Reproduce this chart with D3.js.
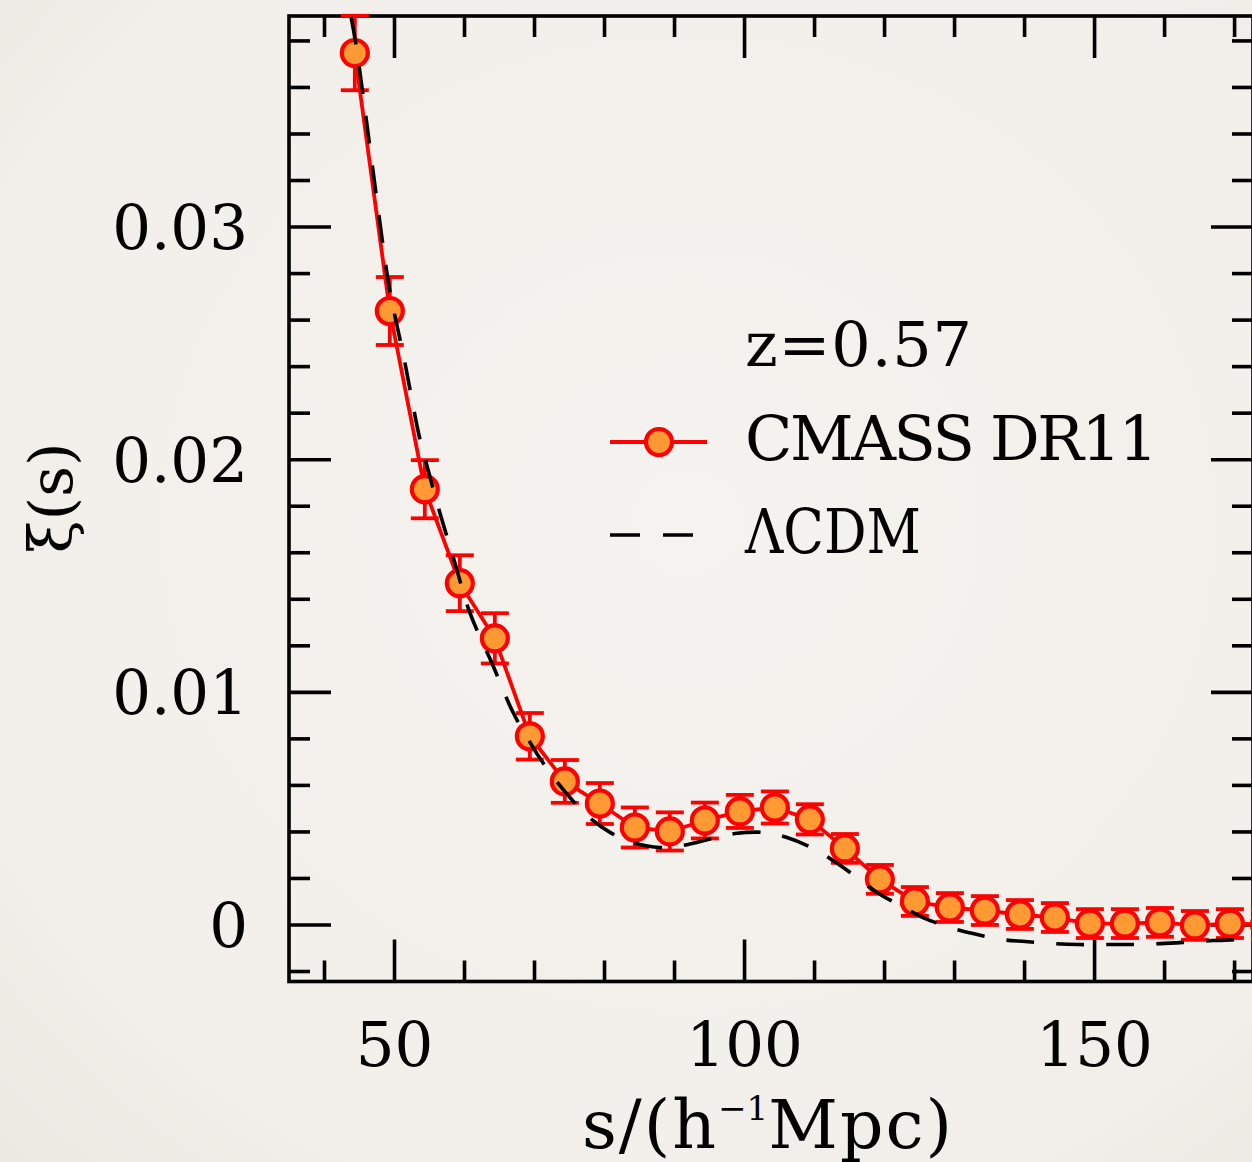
<!DOCTYPE html>
<html>
<head>
<meta charset="utf-8">
<script src="https://cdn.jsdelivr.net/npm/d3@7/dist/d3.min.js"></script>
<style>
  html, body { margin: 0; padding: 0; background: #f2efea; }
  svg { display: block; }
  text { font-family: "DejaVu Serif", serif; fill: #000; }
</style>
</head>
<body>
<svg id="chart" width="1252" height="1162"></svg>
<script>
// ---- data ----
const sVals = [44.4, 49.4, 54.4, 59.4, 64.4, 69.4, 74.4, 79.4, 84.4, 89.4,
               94.4, 99.4, 104.4, 109.4, 114.4, 119.4, 124.4, 129.4, 134.4, 139.4,
               144.4, 149.4, 154.4, 159.4, 164.4, 169.4, 174.4];
const xiVals = [0.03746, 0.02637, 0.01871, 0.01467, 0.01230, 0.00809, 0.00615, 0.00520, 0.00417, 0.00400,
                0.00447, 0.00486, 0.00503, 0.00452, 0.00327, 0.00194, 0.00099, 0.00073, 0.00060, 0.00043,
                0.00030, 0.00004, 0.00004, 0.00009, -0.00004, 0.00004, 0.00000];
const xiErr  = [0.00160, 0.00146, 0.00125, 0.00120, 0.00108, 0.00100, 0.00092, 0.00088, 0.00086, 0.00082,
                0.00077, 0.00071, 0.00069, 0.00065, 0.00062, 0.00062, 0.00062, 0.00062, 0.00062, 0.00062,
                0.00062, 0.00062, 0.00062, 0.00062, 0.00062, 0.00062, 0.00062];
const modelS  = [43.86, 44.57, 49.14, 49.86, 51.43, 53.57, 54.57, 56.57, 58.71, 60.86,
                 64.0, 67.0, 69.43, 70.57, 72.57, 75.14, 77.57, 80.86, 84.0, 88.0,
                 91.29, 95.43, 98.71, 102.71, 106.14, 109.86, 112.71, 116.14, 119.0, 122.29,
                 125.57, 129.43, 132.71, 136.86, 140.14, 144.14, 147.71, 151.86, 155.14, 159.43,
                 162.71, 167.0, 170.43, 172.7];
const modelXi = [0.03901, 0.03781, 0.02770, 0.02654, 0.02434, 0.02103, 0.01987, 0.01768, 0.01553, 0.01338,
                 0.01123, 0.00912, 0.00783, 0.00727, 0.00641, 0.00546, 0.00469, 0.00396, 0.00353, 0.00331,
                 0.00340, 0.00370, 0.00391, 0.00396, 0.00374, 0.00327, 0.00275, 0.00202, 0.00138, 0.00082,
                 0.00030, -0.00013, -0.00039, -0.00065, -0.00073, -0.00082, -0.00086, -0.00086, -0.00086, -0.00082,
                 -0.00077, -0.00069, -0.00065, -0.00060];
const xMajorTicks = [50, 100, 150];
const xTickLabels = ["50", "100", "150"];
const xMinorTicks = [40, 60, 70, 80, 90, 110, 120, 130, 140, 160, 170];
const yMajorTicks = [0, 0.01, 0.02, 0.03];
const yTickLabels = ["0", "0.01", "0.02", "0.03"];
const yMinorTicks = [-0.002, 0.002, 0.004, 0.006, 0.008, 0.012, 0.014, 0.016, 0.018,
                     0.022, 0.024, 0.026, 0.028, 0.032, 0.034, 0.036, 0.038];
const legendLabels = ["z=0.57", "CMASS DR11", "\u039BCDM"];

// ---- layout ----
const L = 289, R = 1253, T = 16, B = 981.5;
const svg = d3.select("#chart");

// background paper
const defs = svg.append("defs");
const grad = defs.append("radialGradient").attr("id", "bg")
  .attr("cx", "55%").attr("cy", "45%").attr("r", "80%");
grad.append("stop").attr("offset", "0%").attr("stop-color", "#f5f3ef");
grad.append("stop").attr("offset", "75%").attr("stop-color", "#f2efea");
grad.append("stop").attr("offset", "100%").attr("stop-color", "#ebe8e2");
svg.append("rect").attr("width", 1252).attr("height", 1162).attr("fill", "url(#bg)");

const x = d3.scaleLinear().domain([35, 172.7]).range([L, R]);
const y = d3.scaleLinear().domain([-0.00245, 0.03905]).range([B, T]);

const axW = 3.6, majLen = 42, minLen = 21;

function styleAxis(g) {
  g.select(".domain").remove();
  g.selectAll(".tick line").attr("stroke", "#000").attr("stroke-width", axW);
}

// bottom axis
svg.append("g").attr("transform", `translate(0,${B})`)
  .call(d3.axisBottom(x).tickValues(xMinorTicks).tickSize(-minLen).tickFormat(""))
  .call(styleAxis);
const gb = svg.append("g").attr("transform", `translate(0,${B})`)
  .call(d3.axisBottom(x).tickValues(xMajorTicks).tickSize(-majLen)
        .tickFormat((d, i) => xTickLabels[i]))
  .call(styleAxis);
gb.selectAll(".tick text").attr("y", 84).attr("dy", 0)
  .attr("font-size", 61).attr("font-family", "DejaVu Serif").attr("fill", "#000");

// top axis
svg.append("g").attr("transform", `translate(0,${T})`)
  .call(d3.axisTop(x).tickValues(xMinorTicks).tickSize(-minLen).tickFormat(""))
  .call(styleAxis);
svg.append("g").attr("transform", `translate(0,${T})`)
  .call(d3.axisTop(x).tickValues(xMajorTicks).tickSize(-majLen).tickFormat(""))
  .call(styleAxis);

// left axis
svg.append("g").attr("transform", `translate(${L},0)`)
  .call(d3.axisLeft(y).tickValues(yMinorTicks).tickSize(-minLen).tickFormat(""))
  .call(styleAxis);
const gl = svg.append("g").attr("transform", `translate(${L},0)`)
  .call(d3.axisLeft(y).tickValues(yMajorTicks).tickSize(-majLen)
        .tickFormat((d, i) => yTickLabels[i]))
  .call(styleAxis);
gl.selectAll(".tick text").attr("x", -41).attr("dy", 22)
  .attr("font-size", 61).attr("font-family", "DejaVu Serif").attr("fill", "#000");

// right axis
svg.append("g").attr("transform", `translate(${R},0)`)
  .call(d3.axisRight(y).tickValues(yMinorTicks).tickSize(-minLen).tickFormat(""))
  .call(styleAxis);
svg.append("g").attr("transform", `translate(${R},0)`)
  .call(d3.axisRight(y).tickValues(yMajorTicks).tickSize(-majLen).tickFormat(""))
  .call(styleAxis);

// frame
svg.append("rect").attr("x", L).attr("y", T).attr("width", R - L).attr("height", B - T)
  .attr("fill", "none").attr("stroke", "#000").attr("stroke-width", axW);

// data
const pts = sVals.map((s, i) => ({ s, v: xiVals[i], e: xiErr[i] }));
const red = "#ff0000", orange = "#ff9933";

svg.append("path").datum(pts)
  .attr("d", d3.line().x(d => x(d.s)).y(d => y(d.v)))
  .attr("fill", "none").attr("stroke", red).attr("stroke-width", 3.8);

const eb = svg.append("g").attr("stroke", red).attr("stroke-width", 3.8);
pts.forEach(d => {
  const cx = x(d.s);
  eb.append("line").attr("x1", cx).attr("x2", cx).attr("y1", y(d.v - d.e)).attr("y2", y(d.v + d.e));
  eb.append("line").attr("x1", cx - 14).attr("x2", cx + 14).attr("y1", y(d.v + d.e)).attr("y2", y(d.v + d.e));
  eb.append("line").attr("x1", cx - 14).attr("x2", cx + 14).attr("y1", y(d.v - d.e)).attr("y2", y(d.v - d.e));
});

svg.append("g").selectAll("circle").data(pts).join("circle")
  .attr("cx", d => x(d.s)).attr("cy", d => y(d.v)).attr("r", 13)
  .attr("fill", orange).attr("stroke", red).attr("stroke-width", 4.2);

// model
const model = modelS.map((s, i) => ({ s, v: modelXi[i] }));
svg.append("path").datum(model)
  .attr("d", d3.line().curve(d3.curveCatmullRom).x(d => x(d.s)).y(d => y(d.v)))
  .attr("fill", "none").attr("stroke", "#000").attr("stroke-width", 3.6)
  .attr("stroke-dasharray", "28,22");

// legend
const lg = svg.append("g");
lg.append("text").attr("x", 745).attr("y", 366).attr("font-size", 62)
  .attr("textLength", 227).attr("lengthAdjust", "spacing").text(legendLabels[0]);
lg.append("line").attr("x1", 610).attr("x2", 707).attr("y1", 442).attr("y2", 442)
  .attr("stroke", red).attr("stroke-width", 3.8);
lg.append("circle").attr("cx", 659).attr("cy", 442).attr("r", 13)
  .attr("fill", orange).attr("stroke", red).attr("stroke-width", 4.2);
lg.append("text").attr("x", 745).attr("y", 460).attr("font-size", 62)
  .attr("textLength", 413).attr("lengthAdjust", "spacing").text(legendLabels[1]);
lg.append("line").attr("x1", 610).attr("x2", 695).attr("y1", 535).attr("y2", 535)
  .attr("stroke", "#000").attr("stroke-width", 3.6).attr("stroke-dasharray", "30,23");
lg.append("text").attr("x", 745).attr("y", 553).attr("font-size", 62)
  .attr("textLength", 176).attr("lengthAdjust", "spacingAndGlyphs").text(legendLabels[2]);

// axis titles
const xt = svg.append("text").attr("x", 768).attr("y", 1148).attr("text-anchor", "middle")
  .attr("font-size", 68).attr("letter-spacing", 2);
xt.append("tspan").text("s/(h");
xt.append("tspan").attr("font-size", 34).attr("dy", -28).attr("letter-spacing", 0).text("\u2212");
xt.append("tspan").attr("font-size", 34).attr("letter-spacing", 0).text("1");
xt.append("tspan").attr("dy", 28).text("Mpc)");

svg.append("text").attr("transform", "translate(72,498) rotate(-90)")
  .attr("text-anchor", "middle").attr("font-size", 60).text("\u03BE(s)");
</script>
</body>
</html>
